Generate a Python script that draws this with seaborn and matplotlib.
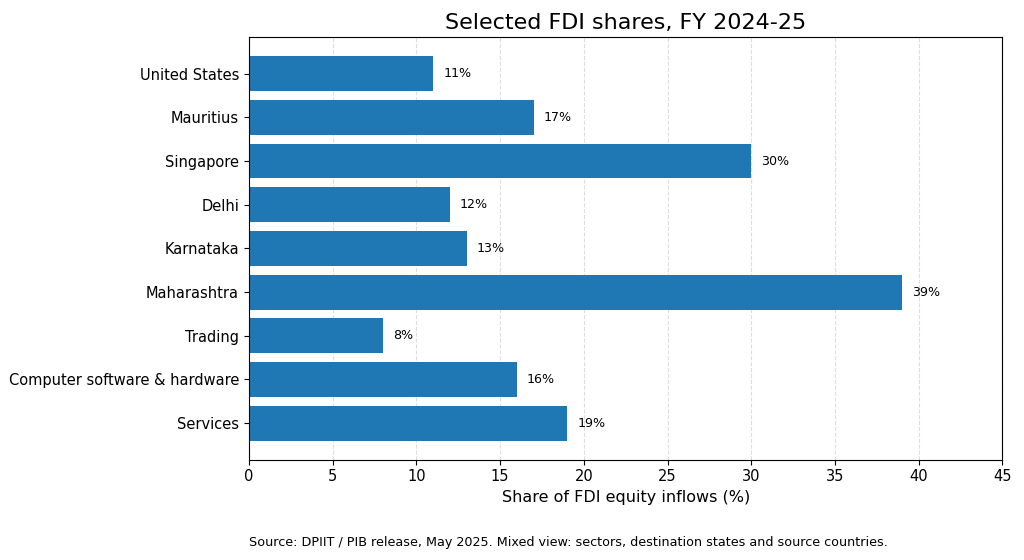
import matplotlib
matplotlib.use("Agg")
import matplotlib.pyplot as plt
import seaborn as sns
import pandas as pd

# data, top to bottom as shown
categories = ["United States", "Mauritius", "Singapore", "Delhi", "Karnataka",
              "Maharashtra", "Trading", "Computer software & hardware", "Services"]
shares = [11, 17, 30, 12, 13, 39, 8, 16, 19]

df = pd.DataFrame({"category": categories, "share": shares})

fig = plt.figure(figsize=(10.24, 5.6), dpi=100)
ax = fig.add_axes([0.243, 0.179, 0.736, 0.755])

sns.barplot(data=df, x="share", y="category", order=categories, orient="h",
            color="#1f77b4", saturation=1, width=0.8, ax=ax, zorder=2)

for i, v in enumerate(shares):
    ax.text(v + 0.6, i, f"{v}%", va="center", ha="left", fontsize=9.1)

ax.set_xlim(0, 45)
ax.set_ylim(8.84, -0.84)
ax.set_xticks(range(0, 50, 5))
ax.grid(axis="x", linestyle="--", color="#dddddd", linewidth=0.8, zorder=0)
ax.set_axisbelow(True)
ax.set_ylabel("")
ax.set_xlabel("Share of FDI equity inflows (%)", fontsize=11.5)
ax.set_title("Selected FDI shares, FY 2024-25", fontsize=16)
ax.tick_params(labelsize=10.55)

fig.text(0.243, 0.025, "Source: DPIIT / PIB release, May 2025. Mixed view: sectors, destination states and source countries.",
         fontsize=9.2, ha="left")

fig.savefig("out.png", dpi=100)
